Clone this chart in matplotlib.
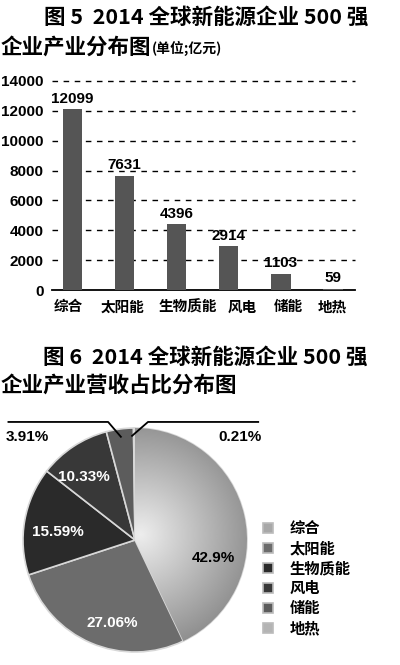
import numpy as np
import matplotlib
matplotlib.use("Agg")
import matplotlib.pyplot as plt
from matplotlib.transforms import ScaledTranslation

plt.rcParams['font.family'] = ['Noto Sans CJK SC', 'DejaVu Sans']

# ---- data ----
categories = ['综合', '太阳能', '生物质能', '风电', '储能', '地热']
revenue = [12099, 7631, 4396, 2914, 1103, 59]
share_pct = [42.9, 27.06, 15.59, 10.33, 3.91, 0.21]
share_labels = ['42.9%', '27.06%', '15.59%', '10.33%', '3.91%', '0.21%']
yticks = [0, 2000, 4000, 6000, 8000, 10000, 12000, 14000]

title5_a = '图 5  2014 全球新能源企业 500 强'
title5_b = '企业产业分布图'
title5_unit = '(单位;亿元)'
title6_a = '图 6  2014 全球新能源企业 500 强'
title6_b = '企业产业营收占比分布图'

W, H = 400, 665
fig = plt.figure(figsize=(W / 100, H / 100), dpi=100)
fig.patch.set_facecolor('white')

def fx(px):
    return px / W

def fy(py):
    return 1 - py / H

num_font = ['Liberation Sans', 'DejaVu Sans']
cjk_bold = dict(family=['Noto Sans CJK SC', 'DejaVu Sans'], fontweight='heavy')

# ---- titles ----
fig.text(fx(206), fy(17), title5_a, ha='center', va='center', fontsize=15.5, **cjk_bold)
fig.text(fx(1), fy(47), title5_b, ha='left', va='center', fontsize=15.5, **cjk_bold)
fig.text(fx(152), fy(48), title5_unit, ha='left', va='center', fontsize=10, **cjk_bold)

fig.text(fx(205), fy(357), title6_a, ha='center', va='center', fontsize=15.5, **cjk_bold)
fig.text(fx(1), fy(385), title6_b, ha='left', va='center', fontsize=15.5, **cjk_bold)

# ---- bar chart ----
ax = fig.add_axes([fx(52), fy(290), fx(355) - fx(52), fy(81) - fy(290)])
x = np.arange(len(categories))
ax.bar(x, revenue, width=0.37, color='#555555', zorder=3)
ax.set_xlim(-0.39, 5.42)
ax.set_ylim(0, 14000)
ax.set_yticks(yticks)
ax.set_yticklabels([str(v) for v in yticks], family=num_font, fontweight='bold', fontsize=11)
ax.set_xticks(x)
ax.set_xticklabels(categories, fontsize=10.5, fontweight='heavy',
                   family=['Noto Sans CJK SC', 'DejaVu Sans'])
ax.tick_params(axis='both', length=0)
ax.tick_params(axis='x', pad=6)
ax.tick_params(axis='y', pad=6)
# small horizontal shifts of the category labels as in the reference layout
label_shift_px = [-4, -2, 11, 13, 8, -1]
for lab, dx in zip(ax.get_xticklabels(), label_shift_px):
    lab.set_transform(lab.get_transform() + ScaledTranslation(dx / 100, 0, fig.dpi_scale_trans))
for s in ['left', 'right', 'top']:
    ax.spines[s].set_visible(False)
ax.spines['bottom'].set_linewidth(1.3)
for v in yticks[1:]:
    ax.axhline(v, color='black', lw=1.0, ls=(0, (4, 4)), zorder=1, clip_on=False)
for xi, v in zip(x, revenue):
    ax.text(xi, v + 250, str(v), ha='center', va='bottom', family=num_font,
            fontweight='bold', fontsize=11, zorder=4)

# ---- pie chart ----
cx, cy, r = 135, 540, 112
pax = fig.add_axes([fx(cx - r), fy(cy + r), fx(2 * r), fy(cy - r) - fy(cy + r)])
colors = ['#a8a8a8', '#6c6c6c', '#2a2a2a', '#383838', '#5c5c5c', '#b4b4b4']
wedges, _ = pax.pie(share_pct, colors=colors, startangle=90, counterclock=False,
                    wedgeprops=dict(edgecolor='#d8d8d8', linewidth=1.2))
pax.set_xlim(-1, 1)
pax.set_ylim(-1, 1)
pax.set_aspect('equal')
pax.axis('off')

# radial gradient on the largest slice (light centre, darker rim)
gx, gy = np.meshgrid(np.linspace(-1, 1, 300), np.linspace(-1, 1, 300))
rad = np.sqrt((gx - 0.05) ** 2 + (gy - 0.05) ** 2)
grad = np.clip(0.93 - 0.36 * rad, 0, 1)
im = pax.imshow(grad, extent=[-1, 1, -1, 1], origin='lower', cmap='gray',
                vmin=0, vmax=1, zorder=wedges[0].get_zorder() + 0.1, interpolation='bilinear')
im.set_clip_path(wedges[0])
pax.set_xlim(-1, 1)
pax.set_ylim(-1, 1)

pct_font = dict(family=['Liberation Sans Narrow', 'Liberation Sans'], fontweight='bold', fontsize=11)
inner_pos = [(0.70, -0.16), (-0.20, -0.74), (-0.69, 0.07), (-0.46, 0.56)]
for (px_, py_), lab in zip(inner_pos, share_labels[:4]):
    c = 'black' if lab == share_labels[0] else 'white'
    pax.text(px_, py_, lab, ha='center', va='center', color=c, zorder=10, **pct_font)

def mid_angle(w):
    return np.deg2rad((w.theta1 + w.theta2) / 2)

a4 = mid_angle(wedges[4])
a5 = mid_angle(wedges[5])
ly = 1.054
p4 = (0.93 * np.cos(a4), 0.93 * np.sin(a4))
p5 = (0.93 * np.cos(a5), 0.93 * np.sin(a5))
pax.plot([-1.13, -0.24, p4[0]], [ly, ly, p4[1]], color='black', lw=1.3, clip_on=False, zorder=10)
pax.plot([1.10, 0.116, p5[0] - 0.02], [ly, ly, p5[1]], color='black', lw=1.3, clip_on=False, zorder=10)
pax.text(-0.96, 0.92, share_labels[4], ha='center', va='center', color='black', zorder=10, **pct_font)
pax.text(0.94, 0.92, share_labels[5], ha='center', va='center', color='black', zorder=10, **pct_font)

# legend
for i, (cat, col) in enumerate(zip(categories, colors)):
    yy = 528 + 20 * i
    fig.patches.append(plt.Rectangle((fx(263), fy(yy + 5)), fx(10), fy(yy - 5) - fy(yy + 5),
                                     facecolor=col, edgecolor='#bbbbbb', lw=1.2,
                                     transform=fig.transFigure, figure=fig))
    fig.text(fx(290), fy(yy), cat, ha='left', va='center', fontsize=11, **cjk_bold)

fig.savefig('out.png', dpi=100, facecolor='white')
